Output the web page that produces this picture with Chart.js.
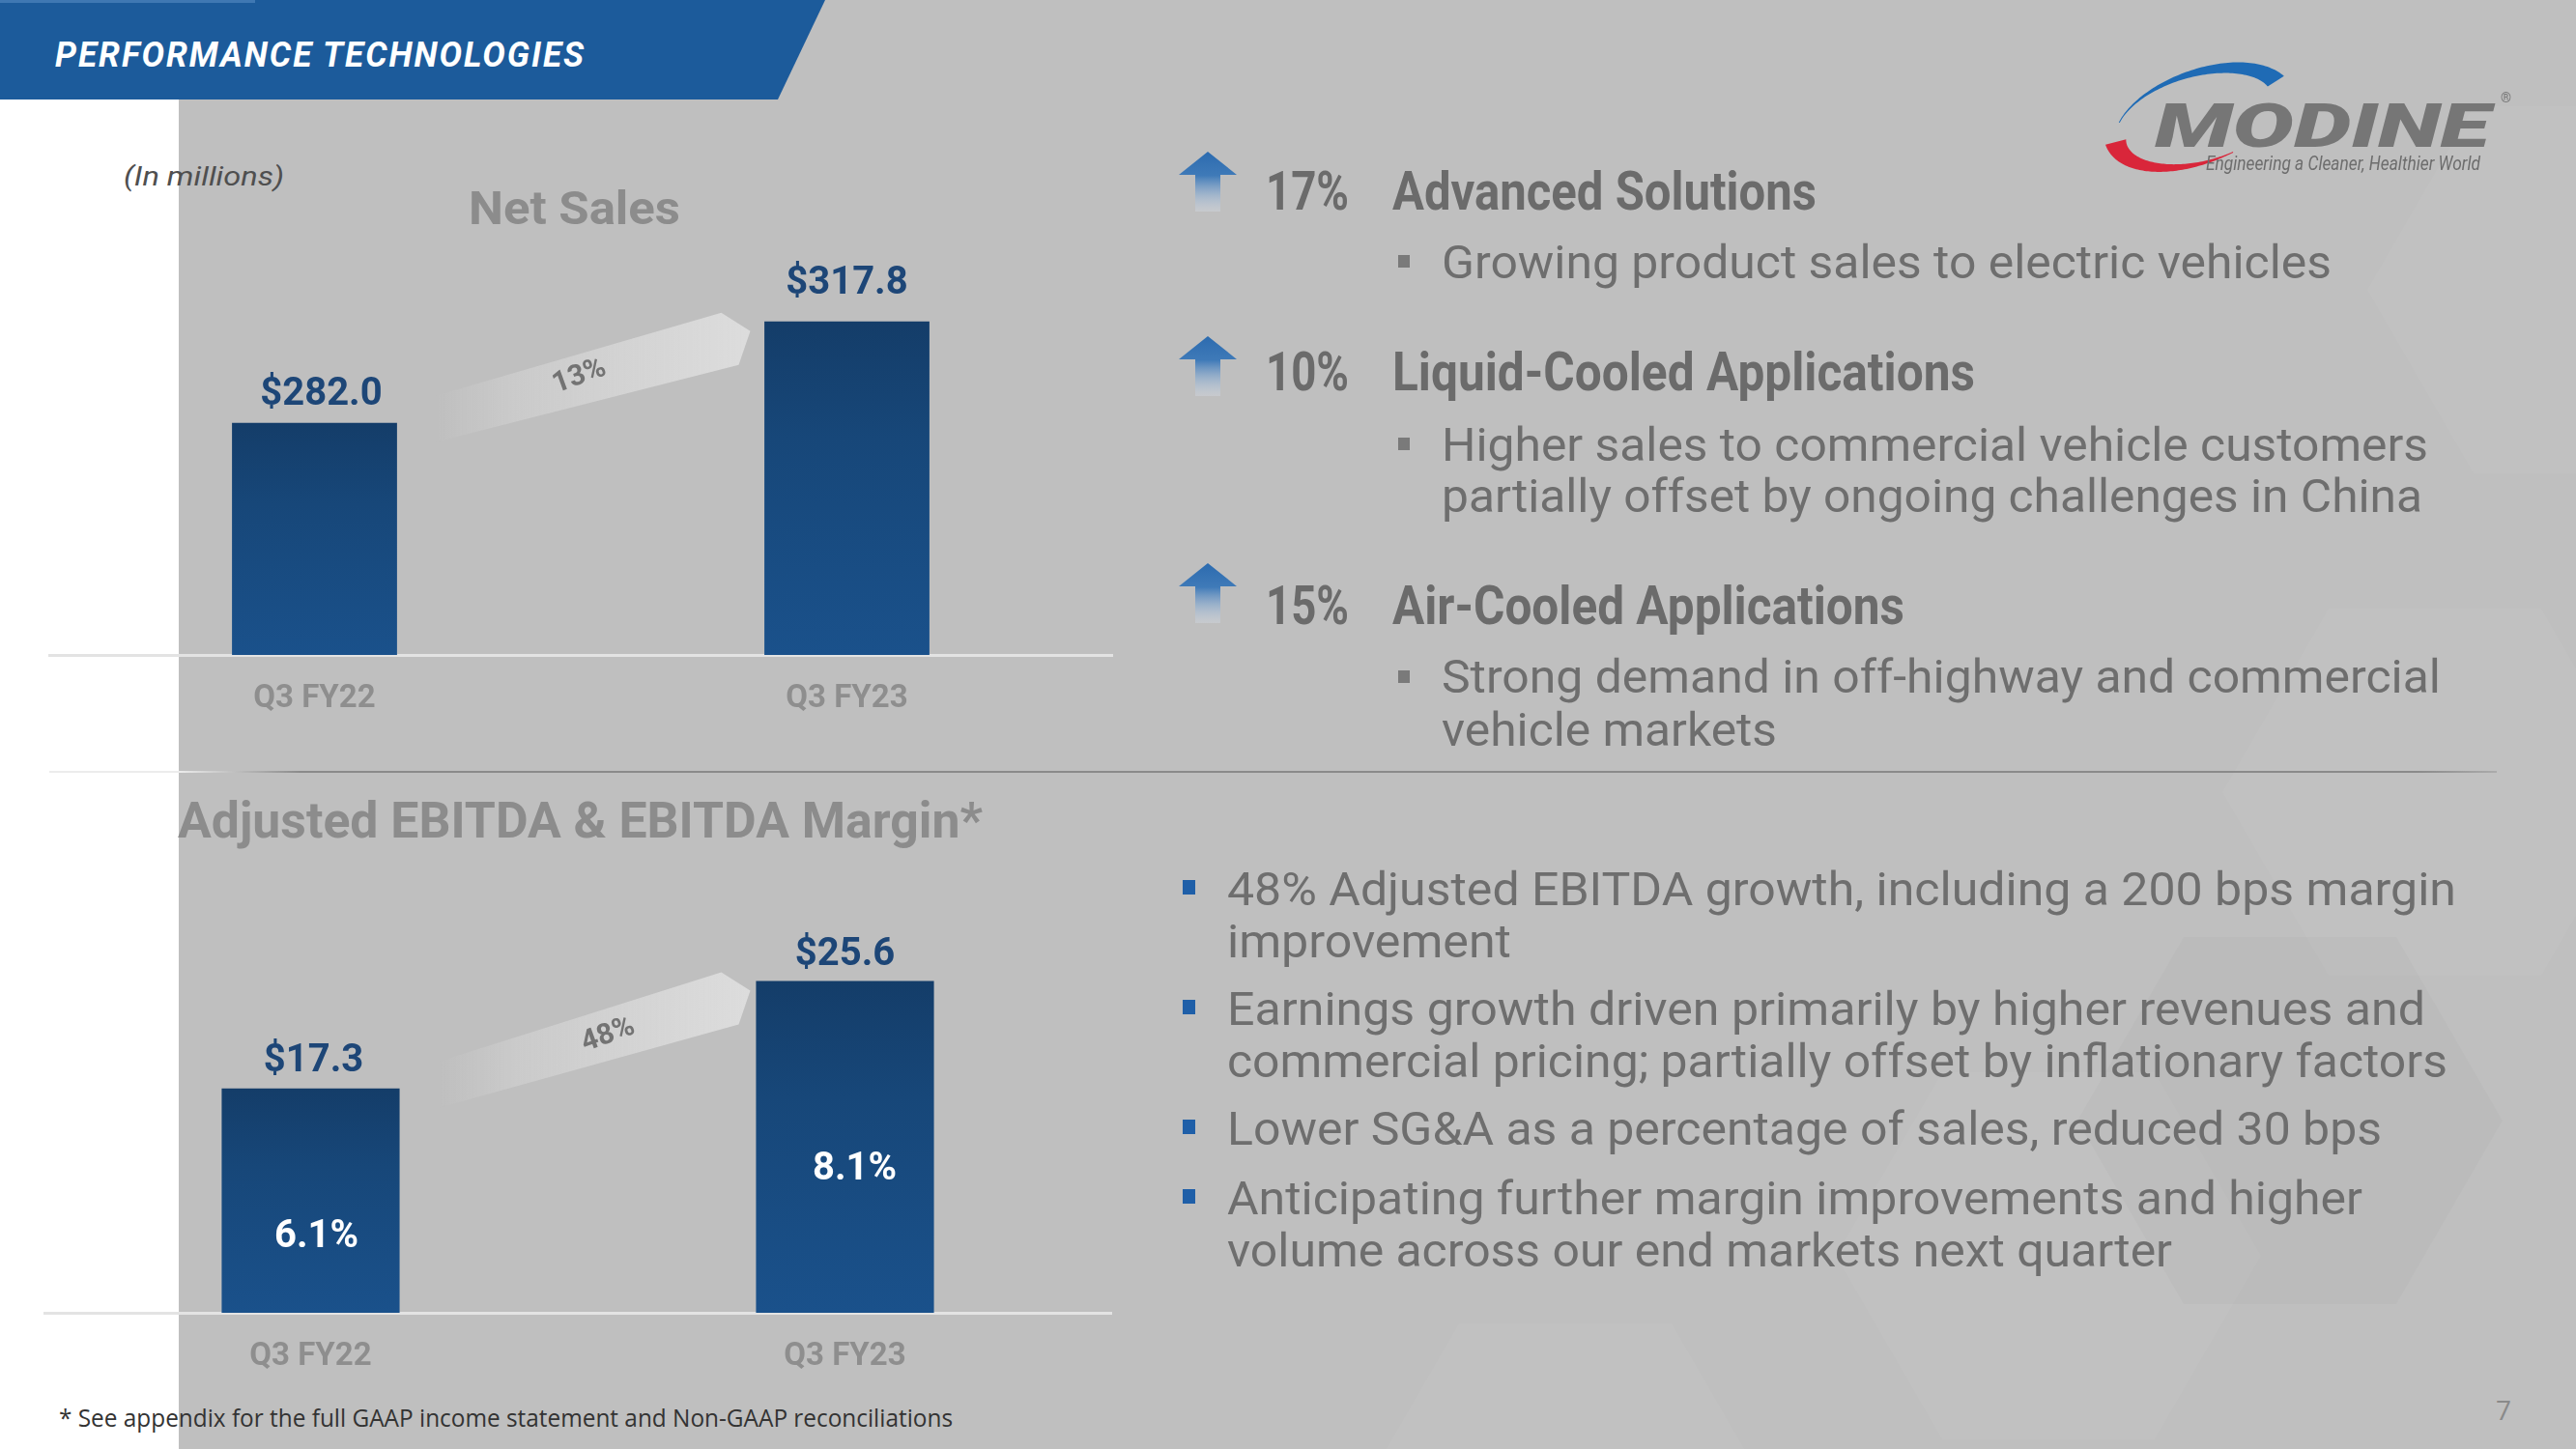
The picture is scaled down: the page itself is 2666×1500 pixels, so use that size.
<!DOCTYPE html>
<html>
<head>
<meta charset="utf-8">
<script src="https://cdn.jsdelivr.net/npm/chart.js@4.4.0/dist/chart.umd.min.js"></script>
<style>
  html, body { margin:0; padding:0; }
  body { width:2666px; height:1500px; position:relative; overflow:hidden; background:#bfbfbf; font-family:Roboto, "Noto Sans", sans-serif; }
  .abs { position:absolute; }
  .t { position:absolute; white-space:nowrap; line-height:1; transform-origin:0 50%; }
  .h { font:700 55px Roboto; color:#6b6b6b; }
  .b { font:400 49px Roboto; color:#6e6e6e; }
  .sq { position:absolute; width:12px; height:13px; background:#7a7a7a; }
  .sqb { position:absolute; width:13px; height:15px; background:#1f5fa8; }
  canvas { position:absolute; }
</style>
</head>
<body>
<!-- faint background hexagons -->
<svg class="abs" style="left:0;top:0" width="2666" height="1500">
  <g fill="#ffffff" fill-opacity="0.035">
    <polygon points="2450,300 2560,110 2780,110 2890,300 2780,490 2560,490"/>
    <polygon points="1900,1300 2010,1110 2230,1110 2340,1300 2230,1490 2010,1490"/>
    <polygon points="1400,1560 1510,1370 1730,1370 1840,1560 1730,1750 1510,1750"/>
    <polygon points="2300,820 2410,630 2630,630 2740,820 2630,1010 2410,1010"/>
  </g>
  <g fill="#000000" fill-opacity="0.018">
    <polygon points="2150,1160 2260,970 2480,970 2590,1160 2480,1350 2260,1350"/>
  </g>
</svg>

<!-- white strip on the left -->
<div class="abs" style="left:0;top:0;width:185px;height:1500px;background:#ffffff"></div>

<!-- header banner -->
<svg class="abs" style="left:0;top:0" width="860" height="104">
  <polygon points="0,0 854,0 805,103 0,103" fill="#1c5b9b"/>
  <rect x="0" y="0" width="264" height="3" fill="#3f78b3"/>
</svg>
<div class="t" data-x="57" data-b="69" data-w="549" style="font:italic 700 36px Roboto;letter-spacing:2px;color:#ffffff">PERFORMANCE TECHNOLOGIES</div>

<!-- logo -->
<canvas id="logo" width="460" height="150" style="left:2160px;top:40px"></canvas>
<div class="t" data-x="2230" data-b="152" data-w="347" style="font:italic 900 62px Roboto;color:#767676">MODINE</div>
<div class="t" data-x="2588" data-b="106" style="font:400 14px Roboto;color:#767676">®</div>
<div class="t" data-x="2283" data-b="176" data-w="284" style="font:italic 400 21px Roboto;color:#6d6d6d">Engineering a Cleaner, Healthier World</div>

<!-- left texts -->
<div class="t" data-x="128" data-b="192" data-w="166" style="font:italic 400 27px Roboto;color:#4f4f4f">(In millions)</div>
<div class="t" data-x="485" data-b="232" data-w="219" style="font:700 49px Roboto;color:#8c8c8c">Net Sales</div>
<div class="t" data-x="184" data-b="867" data-w="833" style="font:700 52px Roboto;color:#8c8c8c">Adjusted EBITDA &amp; EBITDA Margin*</div>

<canvas id="salesChart" width="1102" height="518" style="left:50px;top:240px"></canvas>
<canvas id="ebitdaChart" width="1106" height="509" style="left:45px;top:930px"></canvas>

<!-- separator -->
<div class="abs" style="left:51px;top:798px;width:2533px;height:2px;background:linear-gradient(to right,#ececec 0px,#ececec 134px,#8a8a8a 260px,#8a8a8a 2450px,rgba(138,138,138,0.4) 2533px)"></div>

<!-- right column: segments -->
<svg class="abs" style="left:1220px;top:157px" width="60" height="62">
  <defs><linearGradient id="ag1" x1="0" y1="0" x2="0" y2="1"><stop offset="0" stop-color="#2c6baf"/><stop offset="0.4" stop-color="#3f7ab8"/><stop offset="1" stop-color="#d6dde8" stop-opacity="0.35"/></linearGradient></defs>
  <path d="M30 0 L60 24 L43 24 L43 62 L17 62 L17 24 L0 24 Z" fill="url(#ag1)"/>
</svg>
<svg class="abs" style="left:1220px;top:348px" width="60" height="62">
  <defs><linearGradient id="ag2" x1="0" y1="0" x2="0" y2="1"><stop offset="0" stop-color="#2c6baf"/><stop offset="0.4" stop-color="#3f7ab8"/><stop offset="1" stop-color="#d6dde8" stop-opacity="0.35"/></linearGradient></defs>
  <path d="M30 0 L60 24 L43 24 L43 62 L17 62 L17 24 L0 24 Z" fill="url(#ag2)"/>
</svg>
<svg class="abs" style="left:1220px;top:583px" width="60" height="62">
  <defs><linearGradient id="ag3" x1="0" y1="0" x2="0" y2="1"><stop offset="0" stop-color="#2c6baf"/><stop offset="0.4" stop-color="#3f7ab8"/><stop offset="1" stop-color="#d6dde8" stop-opacity="0.35"/></linearGradient></defs>
  <path d="M30 0 L60 24 L43 24 L43 62 L17 62 L17 24 L0 24 Z" fill="url(#ag3)"/>
</svg>

<div class="t h" data-x="1310" data-b="217" data-w="86">17%</div>
<div class="t h" data-x="1441" data-b="217" data-w="439">Advanced Solutions</div>
<div class="sq" style="left:1447px;top:264px"></div>
<div class="t b" data-x="1492" data-b="288" data-w="921">Growing product sales to electric vehicles</div>

<div class="t h" data-x="1310" data-b="404" data-w="86">10%</div>
<div class="t h" data-x="1441" data-b="404" data-w="603">Liquid-Cooled Applications</div>
<div class="sq" style="left:1447px;top:453px"></div>
<div class="t b" data-x="1492" data-b="477" data-w="1021">Higher sales to commercial vehicle customers</div>
<div class="t b" data-x="1492" data-b="530" data-w="1015">partially offset by ongoing challenges in China</div>

<div class="t h" data-x="1310" data-b="646" data-w="86">15%</div>
<div class="t h" data-x="1441" data-b="646" data-w="530">Air-Cooled Applications</div>
<div class="sq" style="left:1447px;top:694px"></div>
<div class="t b" data-x="1492" data-b="717" data-w="1034">Strong demand in off-highway and commercial</div>
<div class="t b" data-x="1492" data-b="772" data-w="347">vehicle markets</div>

<!-- right column: EBITDA bullets -->
<div class="sqb" style="left:1224px;top:911px"></div>
<div class="t b" data-x="1270" data-b="937" data-w="1272">48% Adjusted EBITDA growth, including a 200 bps margin</div>
<div class="t b" data-x="1270" data-b="991" data-w="294">improvement</div>
<div class="sqb" style="left:1224px;top:1035px"></div>
<div class="t b" data-x="1270" data-b="1061" data-w="1240">Earnings growth driven primarily by higher revenues and</div>
<div class="t b" data-x="1270" data-b="1115" data-w="1263">commercial pricing; partially offset by inflationary factors</div>
<div class="sqb" style="left:1224px;top:1159px"></div>
<div class="t b" data-x="1270" data-b="1185" data-w="1195">Lower SG&amp;A as a percentage of sales, reduced 30 bps</div>
<div class="sqb" style="left:1224px;top:1231px"></div>
<div class="t b" data-x="1270" data-b="1257" data-w="1175">Anticipating further margin improvements and higher</div>
<div class="t b" data-x="1270" data-b="1311" data-w="978">volume across our end markets next quarter</div>

<!-- footer -->
<div class="t" data-x="61" data-b="1477" data-w="925" style="font:400 26px 'Open Sans';color:#333333">* See appendix for the full GAAP income statement and Non-GAAP reconciliations</div>
<div class="t" data-x="2583" data-b="1470" style="font:400 28px 'Open Sans';color:#8a8a8a">7</div>

<script>
// ---------------- data ----------------
const categories = ['Q3 FY22', 'Q3 FY23'];
const netSales = [282.0, 317.8];
const adjEbitda = [17.3, 25.6];
const ebitdaMargin = [6.1, 8.1];
const netSalesGrowth = '13%';
const ebitdaGrowth = '48%';

// ---------------- text placement ----------------
document.querySelectorAll('.t').forEach(el => {
  el.style.left = el.dataset.x + 'px';
  el.style.top = '0px';
  const m = document.createElement('span');
  m.style.cssText = 'display:inline-block;width:0;height:0;vertical-align:baseline';
  el.appendChild(m);
  const base = m.getBoundingClientRect().top - el.getBoundingClientRect().top;
  el.removeChild(m);
  el.style.top = (+el.dataset.b - base) + 'px';
  if (el.dataset.w) {
    const w = el.getBoundingClientRect().width;
    el.style.transform = 'scaleX(' + (+el.dataset.w / w).toFixed(4) + ')';
  }
});

// ---------------- logo swooshes ----------------
(function () {
  const c = document.getElementById('logo').getContext('2d');
  const cx = 116, cy = 82, rx = 90, ry = 46, rot = -18 * Math.PI / 180;
  function pt(t, dr) {
    const x = (rx + dr) * Math.cos(t), y = (ry + dr) * Math.sin(t);
    return [cx + x * Math.cos(rot) - y * Math.sin(rot), cy + x * Math.sin(rot) + y * Math.cos(rot)];
  }
  function swoosh(t0, t1, wf, color) {
    const N = 80, outer = [], inner = [];
    for (let i = 0; i <= N; i++) {
      const f = i / N, t = t0 + (t1 - t0) * f, w = wf(f);
      outer.push(pt(t, w / 2)); inner.push(pt(t, -w / 2));
    }
    c.beginPath();
    outer.forEach((p, i) => i ? c.lineTo(p[0], p[1]) : c.moveTo(p[0], p[1]));
    inner.reverse().forEach(p => c.lineTo(p[0], p[1]));
    c.closePath(); c.fillStyle = color; c.fill();
  }
  swoosh(1.15 * Math.PI, 1.92 * Math.PI, f => 1 + 19 * Math.pow(f, 1.6), '#1f6bb5');
  swoosh(0.42 * Math.PI, 1.02 * Math.PI, f => 1 + 21 * Math.pow(f, 1.3), '#d9263a');
})();

// ---------------- charts ----------------
function barGradient(c) {
  const ch = c.chart, a = ch.chartArea;
  if (!a || c.type !== 'data') return '#174a80';
  const top = ch.scales.y.getPixelForValue(c.raw);
  const g = ch.ctx.createLinearGradient(0, top, 0, a.bottom);
  g.addColorStop(0, '#143d69');
  g.addColorStop(0.35, '#174779');
  g.addColorStop(1, '#1a518b');
  return g;
}

const barDeco = {
  id: 'barDeco',
  beforeDatasetsDraw(chart, args, o) {
    const ctx = chart.ctx, bars = chart.getDatasetMeta(0).data;
    const b1 = bars[0], b2 = bars[1];
    const x0 = b1.x + o.bandStart, x1 = b2.x - o.bandEnd;
    ctx.save();
    ctx.beginPath();
    ctx.moveTo(x0, b1.y - 28);
    ctx.lineTo(x1 - 30, b2.y - 9);
    ctx.lineTo(x1, b2.y + 10);
    ctx.lineTo(x1 - 12, b2.y + 45);
    ctx.lineTo(x0, b1.y + 20);
    ctx.closePath();
    const g = ctx.createLinearGradient(x0, 0, x1, 0);
    g.addColorStop(0, 'rgba(226,226,226,0)');
    g.addColorStop(0.25, 'rgba(224,224,224,0.35)');
    g.addColorStop(1, 'rgba(222,222,222,0.95)');
    ctx.fillStyle = g;
    ctx.fill();
    const mx0 = x0, my0 = b1.y - 4, mx1 = x1 - 15, my1 = b2.y + 18;
    const tx = mx0 + (mx1 - mx0) * o.textFrac, ty = my0 + (my1 - my0) * o.textFrac + o.textDy;
    ctx.translate(tx, ty);
    ctx.rotate(-20 * Math.PI / 180);
    ctx.font = '700 30px Roboto';
    ctx.fillStyle = '#737373';
    ctx.textAlign = 'center';
    ctx.textBaseline = 'middle';
    ctx.fillText(o.growth, 0, 0);
    ctx.restore();
  },
  afterDatasetsDraw(chart, args, o) {
    const ctx = chart.ctx, bars = chart.getDatasetMeta(0).data;
    const vals = chart.data.datasets[0].data;
    ctx.save();
    ctx.textAlign = 'center';
    ctx.textBaseline = 'alphabetic';
    ctx.font = '700 40px Roboto';
    ctx.fillStyle = '#1d4677';
    bars.forEach((bar, i) => ctx.fillText('$' + vals[i].toFixed(1), bar.x + o.labelDx[i], bar.y - o.gap[i]));
    if (o.margins) {
      ctx.fillStyle = '#ffffff';
      bars.forEach((bar, i) => {
        const yc = bar.y + (bar.base - bar.y) * o.marginFrac[i];
        ctx.fillText(o.margins[i].toFixed(1) + '%', bar.x + o.marginDx[i], yc + 14);
      });
    }
    ctx.restore();
  }
};

function makeChart(id, values, yMin, yMax, barPct, deco) {
  return new Chart(document.getElementById(id), {
    type: 'bar',
    data: {
      labels: categories,
      datasets: [{ data: values, backgroundColor: barGradient, borderWidth: 0, barPercentage: barPct, categoryPercentage: 1 }]
    },
    options: {
      responsive: false,
      animation: false,
      devicePixelRatio: 1,
      layout: { padding: { top: deco.padTop, left: 0, right: 0, bottom: 0 } },
      plugins: { legend: { display: false }, tooltip: { enabled: false }, barDeco: deco },
      scales: {
        x: {
          grid: { display: false, drawTicks: false },
          border: { display: true, color: '#e3e3e3', width: 3 },
          ticks: { color: '#8e8e8e', padding: 26, font: { family: 'Roboto', weight: 'bold', size: 33 } },
          afterFit: s => { s.height = 80; }
        },
        y: { display: false, min: yMin, max: yMax }
      }
    },
    plugins: [barDeco]
  });
}

makeChart('salesChart', netSales, 200, 329, 0.31,
  { padTop: 60, bandStart: 125, bandEnd: 100, textFrac: 0.48, textDy: -4, growth: netSalesGrowth,
    gap: [19, 29], labelDx: [7, 0] });
makeChart('ebitdaChart', adjEbitda, 0, 26.75, 0.333,
  { padTop: 70, bandStart: 133, bandEnd: 98, textFrac: 0.57, textDy: 0, growth: ebitdaGrowth,
    gap: [18, 16], labelDx: [3, 0],
    margins: ebitdaMargin, marginFrac: [0.647, 0.558], marginDx: [6, 10] });
</script>
</body>
</html>
